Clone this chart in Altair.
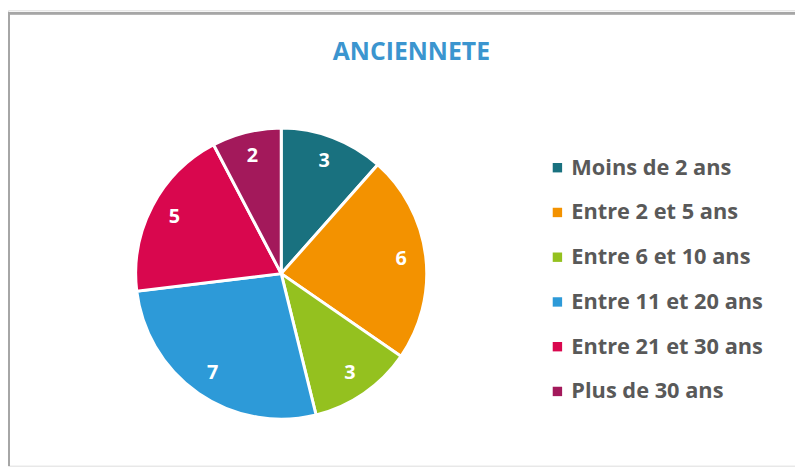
import altair as alt
import pandas as pd

categories = ["Moins de 2 ans", "Entre 2 et 5 ans", "Entre 6 et 10 ans",
              "Entre 11 et 20 ans", "Entre 21 et 30 ans", "Plus de 30 ans"]
values = [3, 6, 3, 7, 5, 2]
colors = ["#19717f", "#f39200", "#94c11f", "#2d9ad8", "#d9074e", "#a3195b"]

df = pd.DataFrame({"cat": categories, "val": values, "idx": list(range(len(values)))})

FONT = "Open Sans"
CX, CY, R = 276, 266, 147

base = alt.Chart(df).encode(
    theta=alt.Theta("val:Q", stack=True),
    order=alt.Order("idx:Q"),
)

pie = base.mark_arc(radius=R, stroke="white", strokeWidth=3).encode(
    x=alt.value(CX), y=alt.value(CY),
    color=alt.Color("cat:N", sort=categories,
                    scale=alt.Scale(domain=categories, range=colors),
                    legend=alt.Legend(title=None, orient="none", legendX=544, legendY=148,
                                      symbolType="square", symbolSize=90, symbolStrokeWidth=0,
                                      labelFont=FONT, labelFontSize=22, labelFontWeight="bold",
                                      labelColor="#595959", rowPadding=23.2, labelOffset=3,
                                      padding=0, labelLimit=400)),
)

labels = base.mark_text(radius=122, font=FONT, fontSize=20, fontWeight="bold",
                        color="white").encode(
    x=alt.value(CX), y=alt.value(CY), text="val:Q")

frame_top = alt.Chart(df).mark_rule(color="#a6a6a6", strokeWidth=2).encode(
    x=alt.value(0), x2=alt.value(795), y=alt.value(3))
frame_left = alt.Chart(df).mark_rule(color="#a6a6a6", strokeWidth=2).encode(
    x=alt.value(1), y=alt.value(3), y2=alt.value(460))

chart = alt.layer(frame_top, frame_left, pie, labels).properties(
    width=795, height=460,
    autosize=alt.AutoSizeParams(type="none"),
    padding=0,
    title=alt.Title("ANCIENNETE", font=FONT, fontSize=25, fontWeight="bold",
                    color="#3b95cf", anchor="middle", dx=10, dy=59, frame="group"),
).configure_view(stroke=None).configure(background="white")

chart.save("out.html", embed_options={"renderer": "svg", "actions": False})
